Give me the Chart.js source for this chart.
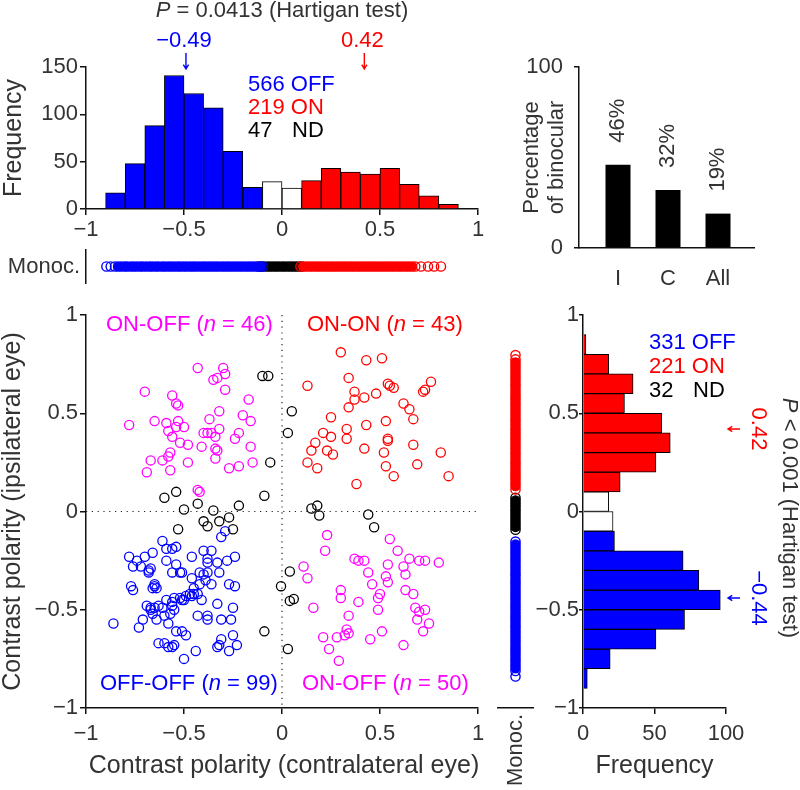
<!DOCTYPE html>
<html lang="en">
<head>
<meta charset="UTF-8">
<title>Contrast polarity of binocular cells</title>
<script src="https://cdn.jsdelivr.net/npm/chart.js"></script>
<style>
  body { margin: 0; background: #fff; }
  #wrap { position: relative; width: 800px; height: 790px; }
  #wrap canvas { position: absolute; left: 0; top: 0; }
</style>
</head>
<body>
<div id="wrap">
  <canvas id="histTop" width="800" height="790"></canvas>
  <canvas id="bino" width="800" height="790"></canvas>
  <canvas id="stripTop" width="800" height="790"></canvas>
  <canvas id="scatter" width="800" height="790"></canvas>
  <canvas id="stripSide" width="800" height="790"></canvas>
  <canvas id="histSide" width="800" height="790"></canvas>
</div>
<script>
// histogram bins (centres) and counts
const histBins = [-0.85, -0.75, -0.65, -0.55, -0.45, -0.35, -0.25, -0.15, -0.05, 0.05, 0.15, 0.25, 0.35, 0.45, 0.55, 0.65, 0.75, 0.85];
const contraCounts = [17, 48, 88, 141, 122, 107, 61, 23, 29, 22, 30, 43, 39, 37, 43, 26, 14, 5];
const ipsiCounts = [3, 19, 51, 71, 96, 81, 70, 22, 21, 18, 26, 51, 61, 55, 29, 35, 18, 2];
const contraModes = [-0.49, 0.42];
const ipsiModes = [-0.44, 0.42];
const contraN = [566, 219, 47];   // OFF, ON, ND
const ipsiN = [331, 221, 32];

// percentage of binocular cells
const binoCats = ['I', 'C', 'All'];
const binoPct = [46, 32, 19];

// monocular cells (contralateral strip = x, ipsilateral strip = y)
const monoTopOff = [-0.896, -0.874, -0.852, -0.836, -0.82, -0.803, -0.79, -0.772, -0.757, -0.741, -0.724, -0.71, -0.693, -0.676, -0.662, -0.645, -0.63, -0.612, -0.598, -0.581, -0.566, -0.55, -0.533, -0.519, -0.502, -0.487, -0.47, -0.455, -0.44, -0.423, -0.407, -0.392, -0.376, -0.36, -0.344, -0.329, -0.312, -0.297, -0.281, -0.266, -0.25, -0.234, -0.218, -0.203, -0.187, -0.171, -0.156, -0.14, -0.125, -0.11, -0.098];
const monoTopND = [-0.119, -0.105, -0.09, -0.074, -0.06, -0.045, -0.03, -0.016, 0, 0.014, 0.03, 0.044, 0.059, 0.073, 0.088, 0.102];
const monoTopOn = [0.094, 0.109, 0.124, 0.14, 0.155, 0.171, 0.186, 0.2, 0.216, 0.232, 0.247, 0.262, 0.278, 0.293, 0.309, 0.324, 0.34, 0.355, 0.37, 0.386, 0.401, 0.417, 0.432, 0.448, 0.463, 0.478, 0.494, 0.51, 0.525, 0.54, 0.556, 0.571, 0.587, 0.602, 0.617, 0.633, 0.648, 0.664, 0.68, 0.709, 0.745, 0.776, 0.811];
const monoSideOn = [0.796, 0.774, 0.758, 0.742, 0.727, 0.711, 0.695, 0.68, 0.664, 0.648, 0.633, 0.617, 0.6, 0.585, 0.57, 0.554, 0.538, 0.522, 0.507, 0.491, 0.475, 0.46, 0.444, 0.428, 0.412, 0.397, 0.381, 0.365, 0.35, 0.334, 0.318, 0.302, 0.287, 0.271, 0.255, 0.24, 0.224, 0.208, 0.192, 0.177, 0.161, 0.145, 0.13, 0.112];
const monoSideND = [0.07, 0.056, 0.041, 0.027, 0.012, -0.003, -0.018, -0.033, -0.048, -0.063, -0.078, -0.093];
const monoSideOff = [-0.153, -0.168, -0.184, -0.2, -0.215, -0.231, -0.247, -0.262, -0.278, -0.294, -0.31, -0.325, -0.341, -0.357, -0.372, -0.388, -0.404, -0.42, -0.435, -0.451, -0.467, -0.482, -0.498, -0.514, -0.53, -0.545, -0.561, -0.577, -0.592, -0.608, -0.624, -0.64, -0.655, -0.671, -0.687, -0.702, -0.718, -0.734, -0.75, -0.765, -0.781, -0.797, -0.812, -0.84];

// binocular cells: [contralateral, ipsilateral]
const onOffTop = [[-0.43,0.73],[-0.30,0.73],[-0.29,0.70],[-0.33,0.68],[-0.35,0.67],[-0.29,0.62],[-0.70,0.61],[-0.56,0.59],[-0.54,0.55],[-0.53,0.54],[-0.17,0.57],[-0.78,0.44],[-0.65,0.46],[-0.59,0.45],[-0.53,0.46],[-0.50,0.43],[-0.54,0.43],[-0.58,0.41],[-0.56,0.38],[-0.52,0.35],[-0.48,0.34],[-0.37,0.47],[-0.32,0.51],[-0.32,0.42],[-0.40,0.40],[-0.38,0.40],[-0.36,0.40],[-0.34,0.38],[-0.34,0.32],[-0.33,0.31],[-0.41,0.33],[-0.34,0.27],[-0.20,0.49],[-0.16,0.46],[-0.22,0.40],[-0.24,0.37],[-0.16,0.33],[-0.57,0.30],[-0.58,0.28],[-0.61,0.26],[-0.67,0.26],[-0.69,0.20],[-0.57,0.21],[-0.48,0.25],[-0.27,0.22],[-0.22,0.23],[-0.15,0.25],[-0.43,0.11],[-0.42,0.10]];
const onOn = [[0.30,0.81],[0.43,0.77],[0.51,0.78],[0.34,0.68],[0.13,0.64],[0.54,0.65],[0.55,0.64],[0.57,0.63],[0.76,0.66],[0.73,0.62],[0.72,0.61],[0.37,0.61],[0.37,0.57],[0.42,0.58],[0.48,0.60],[0.34,0.53],[0.62,0.55],[0.65,0.52],[0.67,0.47],[0.25,0.48],[0.53,0.46],[0.43,0.44],[0.33,0.42],[0.33,0.37],[0.21,0.40],[0.25,0.38],[0.17,0.35],[0.15,0.31],[0.23,0.31],[0.26,0.29],[0.13,0.25],[0.18,0.22],[0.42,0.32],[0.54,0.36],[0.54,0.37],[0.52,0.30],[0.67,0.34],[0.81,0.30],[0.69,0.24],[0.53,0.23],[0.57,0.18],[0.85,0.18],[0.38,0.14]];
const offOff = [[-0.29,-0.10],[-0.31,-0.13],[-0.61,-0.15],[-0.59,-0.19],[-0.56,-0.19],[-0.54,-0.18],[-0.78,-0.23],[-0.74,-0.25],[-0.70,-0.23],[-0.66,-0.21],[-0.76,-0.28],[-0.72,-0.28],[-0.68,-0.30],[-0.67,-0.29],[-0.68,-0.31],[-0.59,-0.25],[-0.54,-0.27],[-0.51,-0.31],[-0.52,-0.31],[-0.56,-0.31],[-0.46,-0.23],[-0.40,-0.20],[-0.36,-0.20],[-0.38,-0.24],[-0.38,-0.26],[-0.33,-0.26],[-0.28,-0.25],[-0.24,-0.23],[-0.46,-0.34],[-0.42,-0.31],[-0.40,-0.32],[-0.38,-0.31],[-0.39,-0.35],[-0.36,-0.37],[-0.32,-0.31],[-0.27,-0.37],[-0.24,-0.38],[-0.42,-0.37],[-0.45,-0.39],[-0.77,-0.38],[-0.76,-0.40],[-0.65,-0.37],[-0.65,-0.38],[-0.64,-0.39],[-0.66,-0.39],[-0.69,-0.48],[-0.67,-0.49],[-0.67,-0.50],[-0.65,-0.49],[-0.63,-0.48],[-0.61,-0.49],[-0.59,-0.45],[-0.56,-0.46],[-0.56,-0.48],[-0.55,-0.44],[-0.52,-0.44],[-0.51,-0.45],[-0.50,-0.45],[-0.49,-0.43],[-0.47,-0.42],[-0.46,-0.43],[-0.45,-0.42],[-0.43,-0.42],[-0.41,-0.45],[-0.33,-0.47],[-0.25,-0.49],[-0.71,-0.55],[-0.73,-0.59],[-0.66,-0.52],[-0.64,-0.55],[-0.60,-0.53],[-0.57,-0.52],[-0.55,-0.50],[-0.58,-0.57],[-0.86,-0.57],[-0.54,-0.61],[-0.51,-0.61],[-0.49,-0.63],[-0.43,-0.53],[-0.38,-0.53],[-0.38,-0.55],[-0.31,-0.55],[-0.26,-0.55],[-0.25,-0.63],[-0.31,-0.65],[-0.63,-0.67],[-0.60,-0.67],[-0.58,-0.69],[-0.56,-0.69],[-0.55,-0.68],[-0.50,-0.75],[-0.44,-0.71],[-0.33,-0.69],[-0.32,-0.68],[-0.27,-0.71],[-0.23,-0.68]];
const onOffBottom = [[0.23,-0.12],[0.22,-0.20],[0.55,-0.14],[0.59,-0.20],[0.11,-0.28],[0.13,-0.34],[0.37,-0.24],[0.39,-0.25],[0.42,-0.25],[0.65,-0.24],[0.70,-0.25],[0.73,-0.25],[0.80,-0.26],[0.54,-0.27],[0.62,-0.28],[0.63,-0.32],[0.44,-0.31],[0.53,-0.33],[0.54,-0.36],[0.46,-0.37],[0.30,-0.40],[0.30,-0.44],[0.50,-0.42],[0.49,-0.44],[0.39,-0.46],[0.49,-0.50],[0.63,-0.40],[0.67,-0.42],[0.68,-0.49],[0.70,-0.51],[0.73,-0.50],[0.69,-0.55],[0.75,-0.57],[0.72,-0.61],[0.16,-0.49],[0.34,-0.53],[0.33,-0.60],[0.34,-0.62],[0.32,-0.63],[0.28,-0.64],[0.21,-0.64],[0.24,-0.70],[0.29,-0.76],[0.45,-0.65],[0.51,-0.61],[0.62,-0.68]];
const ndPts = [[-0.10,0.69],[-0.07,0.69],[0.05,0.51],[0.03,0.40],[-0.06,0.25],[-0.09,0.08],[-0.54,0.10],[-0.60,0.07],[-0.50,0.01],[-0.43,0.04],[-0.35,0.005],[-0.22,0.03],[-0.40,-0.05],[-0.38,-0.075],[-0.32,-0.05],[-0.27,-0.03],[-0.25,-0.09],[-0.53,-0.09],[0.15,0.015],[0.18,0.03],[0.19,-0.02],[0.44,-0.015],[0.47,-0.08],[0.04,-0.305],[-0.005,-0.38],[0.04,-0.455],[0.06,-0.445],[0.03,-0.70],[-0.09,-0.61]];
const quadN = [46, 43, 99, 50];   // ON-OFF top, ON-ON, OFF-OFF, ON-OFF bottom

const FONT = "'Liberation Sans', Arial, Helvetica, sans-serif";
const INK = '#333';
const BLUE = '#0000ff', RED = '#ff0000', MAG = '#ff00ff';
Chart.defaults.font.family = FONT;
Chart.defaults.font.size = 22;
Chart.defaults.color = INK;
Chart.defaults.animation = false;
Chart.defaults.plugins.legend.display = false;
Chart.defaults.plugins.tooltip.enabled = false;

function fmt(v) { return (v < 0 ? '\u2212' : '') + Math.abs(v); }
function fmt2(v) { return (v < 0 ? '\u2212' : '') + Math.abs(v).toFixed(2); }
function binColor(b) { return b < -0.1 ? BLUE : (b > 0.1 ? RED : '#fff'); }

// chart area placed by outer padding (canvas is the full page)
function pad(left, top, right, bottom) { return { padding: { left, top, right: 800 - right, bottom: 790 - bottom } }; }

function axis(min, max, step, extra) {
  return Object.assign({
    type: 'linear', min, max, offset: false,
    border: { display: true, color: '#111', width: 1.5 },
    grid: { offset: false, drawOnChartArea: false, drawTicks: true, tickLength: 6, color: '#111', lineWidth: 1.5 },
    ticks: { stepSize: step, callback: fmt, padding: 2, maxRotation: 0, autoSkip: false, font: { size: 22 } }
  }, extra);
}

function label(ctx, parts, x, y, o) {
  o = o || {};
  if (typeof parts === 'string') parts = [[parts, false]];
  const size = o.size || 22;
  ctx.save();
  ctx.translate(x, y);
  if (o.rotate) ctx.rotate(o.rotate);
  ctx.fillStyle = o.color || INK;
  ctx.textBaseline = o.baseline || 'alphabetic';
  ctx.textAlign = 'left';
  const fonts = parts.map(p => (p[1] ? 'italic ' : '') + size + 'px ' + FONT);
  let total = 0;
  const widths = parts.map((p, i) => { ctx.font = fonts[i]; const w = ctx.measureText(p[0]).width; total += w; return w; });
  let cx = o.align === 'center' ? -total / 2 : (o.align === 'right' ? -total : 0);
  parts.forEach((p, i) => { ctx.font = fonts[i]; ctx.fillText(p[0], cx, 0); cx += widths[i]; });
  ctx.restore();
}

function arrow(ctx, x1, y1, x2, y2, color) {
  const a = Math.atan2(y2 - y1, x2 - x1), h = 5;
  ctx.save();
  ctx.strokeStyle = color; ctx.lineWidth = 1.4;
  ctx.beginPath();
  ctx.moveTo(x1, y1); ctx.lineTo(x2, y2);
  ctx.moveTo(x2 - h * Math.cos(a - 0.55), y2 - h * Math.sin(a - 0.55));
  ctx.lineTo(x2, y2);
  ctx.lineTo(x2 - h * Math.cos(a + 0.55), y2 - h * Math.sin(a + 0.55));
  ctx.stroke();
  ctx.restore();
}

// dense monocular strips: inner points filled, isolated/end points open
function stripFill(vals, color) {
  const s = vals.slice().sort((a, b) => a - b);
  return vals.map(v => {
    const i = s.indexOf(v);
    const ok = i > 0 && i < s.length - 1 && s[i] - s[i - 1] < 0.02 && s[i + 1] - s[i] < 0.02;
    return ok ? color : 'rgba(0,0,0,0)';
  });
}
function stripSet(vals, color, horizontal) {
  return {
    data: vals.map(v => horizontal ? { x: v, y: 0.5 } : { x: 0.5, y: v }),
    borderColor: color, backgroundColor: stripFill(vals, color),
    pointRadius: 4.6, borderWidth: 1.4, clip: false
  };
}
function ringSet(pts, color) {
  return { data: pts.map(p => ({ x: p[0], y: p[1] })), borderColor: color, backgroundColor: 'rgba(0,0,0,0)', pointRadius: 4.6, borderWidth: 1.3, clip: false };
}

const P = Math.PI / 2;

// ---- top histogram (contralateral eye) ----
new Chart(document.getElementById('histTop'), {
  type: 'bar',
  data: { datasets: [{
    data: histBins.map((b, i) => ({ x: b, y: contraCounts[i] })),
    backgroundColor: histBins.map(binColor), borderColor: '#000', borderWidth: 1,
    barPercentage: 1, categoryPercentage: 1
  }] },
  options: {
    responsive: false,
    layout: pad(0, 67, 478, 239),
    scales: {
      x: axis(-1, 1, 0.5, { afterFit: s => { s.height = 30; } }),
      y: axis(0, 150, 50, { afterFit: s => { s.width = 86; } })
    }
  },
  plugins: [{ id: 'topNotes', afterDraw(c) {
    const ctx = c.ctx, xs = c.scales.x, ys = c.scales.y;
    label(ctx, [['P', true], [' = 0.0413 (Hartigan test)', false]], xs.getPixelForValue(0), 17, { align: 'center' });
    contraModes.forEach((m, i) => {
      const col = i === 0 ? BLUE : RED, px = xs.getPixelForValue(m);
      label(ctx, fmt2(m), px - 2, 47, { align: 'center', color: col });
      arrow(ctx, px, 53, px, 69, col);
    });
    label(ctx, contraN[0] + ' OFF', 248, 91, { color: BLUE });
    label(ctx, contraN[1] + ' ON', 248, 114, { color: RED });
    label(ctx, String(contraN[2]), 248, 137, { color: '#000' });
    label(ctx, 'ND', 292, 137, { color: '#000' });
    label(ctx, 'Frequency', 14, (ys.top + ys.bottom) / 2, { align: 'center', baseline: 'middle', rotate: -P, size: 25 });
  } }]
});

// ---- percentage of binocular ----
new Chart(document.getElementById('bino'), {
  type: 'bar',
  data: { datasets: [{
    data: binoPct.map((v, i) => ({ x: i + 1, y: v })),
    backgroundColor: '#000', borderColor: '#000', borderWidth: 0,
    barPercentage: 0.5, categoryPercentage: 1
  }] },
  options: {
    responsive: false,
    layout: pad(519, 67, 754, 288),
    scales: {
      x: axis(0.22, 3.72, 1, {
        afterFit: s => { s.height = 40; },
        afterBuildTicks: s => { s.ticks = binoCats.map((c, i) => ({ value: i + 1 })); },
        grid: { offset: false, drawOnChartArea: false, drawTicks: false },
        ticks: { padding: 18, callback: (v, i) => binoCats[i], autoSkip: false, maxRotation: 0, font: { size: 22 } }
      }),
      y: axis(0, 100, 100, {
        afterFit: s => { s.width = 60; },
        grid: { offset: false, drawOnChartArea: false, drawTicks: true, tickLength: 5, color: '#111', lineWidth: 1.5 },
        ticks: { stepSize: 100, padding: 11, callback: fmt, font: { size: 22 } }
      })
    }
  },
  plugins: [{ id: 'binoNotes', afterDraw(c) {
    const ctx = c.ctx, xs = c.scales.x, ys = c.scales.y;
    binoPct.forEach((v, i) => {
      label(ctx, v + '%', xs.getPixelForValue(i + 1), ys.getPixelForValue(v) - 22, { baseline: 'middle', rotate: -P });
    });
    const cy = (ys.top + ys.bottom) / 2;
    label(ctx, 'Percentage', 532, cy, { align: 'center', baseline: 'middle', rotate: -P });
    label(ctx, 'of binocular', 557, cy, { align: 'center', baseline: 'middle', rotate: -P });
  } }]
});

// ---- top monocular strip ----
new Chart(document.getElementById('stripTop'), {
  type: 'scatter',
  data: { datasets: [stripSet(monoTopOff, BLUE, true), stripSet(monoTopOn, RED, true), stripSet(monoTopND, '#000', true)] },
  options: {
    responsive: false,
    layout: pad(86, 250, 478, 283),
    scales: {
      x: { type: 'linear', min: -1, max: 1, display: false },
      y: { type: 'linear', min: 0, max: 1, afterFit: s => { s.width = 0; },
           border: { display: true, color: '#111', width: 1.5 }, grid: { display: false }, ticks: { display: false } }
    }
  },
  plugins: [{ id: 'monoTop', afterDraw(c) {
    label(c.ctx, 'Monoc.', 80, (c.chartArea.top + c.chartArea.bottom) / 2, { align: 'right', baseline: 'middle' });
  } }]
});

// ---- binocular scatter ----
new Chart(document.getElementById('scatter'), {
  type: 'scatter',
  data: { datasets: [ringSet(onOffTop, MAG), ringSet(onOffBottom, MAG), ringSet(onOn, RED), ringSet(offOff, BLUE), ringSet(ndPts, '#000')] },
  options: {
    responsive: false,
    layout: pad(0, 315, 478, 748),
    scales: {
      x: axis(-1, 1, 0.5, {
        afterFit: s => { s.height = 40; },
        ticks: { stepSize: 0.5, callback: fmt, padding: 7, maxRotation: 0, autoSkip: false, font: { size: 22 } }
      }),
      y: axis(-1, 1, 0.5, { afterFit: s => { s.width = 86; } })
    }
  },
  plugins: [{ id: 'quad', beforeDatasetsDraw(c) {
    const ctx = c.ctx, xs = c.scales.x, ys = c.scales.y, a = c.chartArea;
    ctx.save();
    ctx.strokeStyle = '#222'; ctx.lineWidth = 1.2; ctx.setLineDash([1.2, 4.6]);
    ctx.beginPath();
    ctx.moveTo(xs.getPixelForValue(0), a.top); ctx.lineTo(xs.getPixelForValue(0), a.bottom);
    ctx.moveTo(a.left, ys.getPixelForValue(0)); ctx.lineTo(a.right, ys.getPixelForValue(0));
    ctx.stroke();
    ctx.restore();
  }, afterDraw(c) {
    const ctx = c.ctx, a = c.chartArea;
    const nl = n => [['(', false], ['n', true], [' = ' + n + ')', false]];
    label(ctx, [['ON-OFF ', false]].concat(nl(quadN[0])), 106, 331, { color: MAG });
    label(ctx, [['ON-ON ', false]].concat(nl(quadN[1])), 307, 331, { color: RED });
    label(ctx, [['OFF-OFF ', false]].concat(nl(quadN[2])), 100, 690, { color: BLUE });
    label(ctx, [['ON-OFF ', false]].concat(nl(quadN[3])), 302, 690, { color: MAG });
    label(ctx, 'Contrast polarity (contralateral eye)', (a.left + a.right) / 2 + 2, 773, { align: 'center', size: 25 });
    label(ctx, 'Contrast polarity (ipsilateral eye)', 13, (a.top + a.bottom) / 2, { align: 'center', baseline: 'middle', rotate: -P, size: 25 });
  } }]
});

// ---- side monocular strip ----
new Chart(document.getElementById('stripSide'), {
  type: 'scatter',
  data: { datasets: [stripSet(monoSideOff, BLUE, false), stripSet(monoSideOn, RED, false), stripSet(monoSideND, '#000', false)] },
  options: {
    responsive: false,
    layout: pad(498, 315, 533, 708),
    scales: {
      x: { type: 'linear', min: 0, max: 1, afterFit: s => { s.height = 0; },
           border: { display: true, color: '#111', width: 1.5 }, grid: { display: false }, ticks: { display: false } },
      y: { type: 'linear', min: -1, max: 1, display: false }
    }
  },
  plugins: [{ id: 'monoSide', afterDraw(c) {
    label(c.ctx, 'Monoc.', (c.chartArea.left + c.chartArea.right) / 2, 750, { align: 'center', baseline: 'middle', rotate: -P });
  } }]
});

// ---- side histogram (ipsilateral eye) ----
new Chart(document.getElementById('histSide'), {
  type: 'bar',
  data: { datasets: [{
    data: histBins.map((b, i) => ({ x: ipsiCounts[i], y: b })),
    backgroundColor: histBins.map(binColor), borderColor: '#000', borderWidth: 1,
    barPercentage: 1, categoryPercentage: 1
  }] },
  options: {
    responsive: false,
    indexAxis: 'y',
    layout: pad(523, 315, 726, 748),
    scales: {
      x: axis(0, 100, 50, {
        afterFit: s => { s.height = 40; },
        ticks: { stepSize: 50, callback: fmt, padding: 7, maxRotation: 0, autoSkip: false, font: { size: 22 } }
      }),
      y: axis(-1, 1, 0.5, {
        afterFit: s => { s.width = 60; },
        grid: { offset: false, drawOnChartArea: false, drawTicks: true, tickLength: 4, color: '#111', lineWidth: 1.5 },
        ticks: { stepSize: 0.5, callback: fmt, padding: 0, font: { size: 22 } }
      })
    }
  },
  plugins: [{ id: 'sideNotes', afterDraw(c) {
    const ctx = c.ctx, xs = c.scales.x, ys = c.scales.y;
    label(ctx, ipsiN[0] + ' OFF', 649, 349, { color: BLUE });
    label(ctx, ipsiN[1] + ' ON', 649, 373, { color: RED });
    label(ctx, String(ipsiN[2]), 649, 397, { color: '#000' });
    label(ctx, 'ND', 693, 397, { color: '#000' });
    ipsiModes.forEach((m, i) => {
      const col = i === 0 ? BLUE : RED, py = ys.getPixelForValue(m);
      arrow(ctx, 740, py, 728, py, col);
      label(ctx, fmt2(m), 758, py, { align: 'center', baseline: 'middle', rotate: P, color: col });
    });
    label(ctx, [['P', true], [' < 0.001 (Hartigan test)', false]], 789, 518, { align: 'center', baseline: 'middle', rotate: P });
    label(ctx, 'Frequency', (xs.left + xs.right) / 2, 773, { align: 'center', size: 25 });
  } }]
});
</script>
</body>
</html>
